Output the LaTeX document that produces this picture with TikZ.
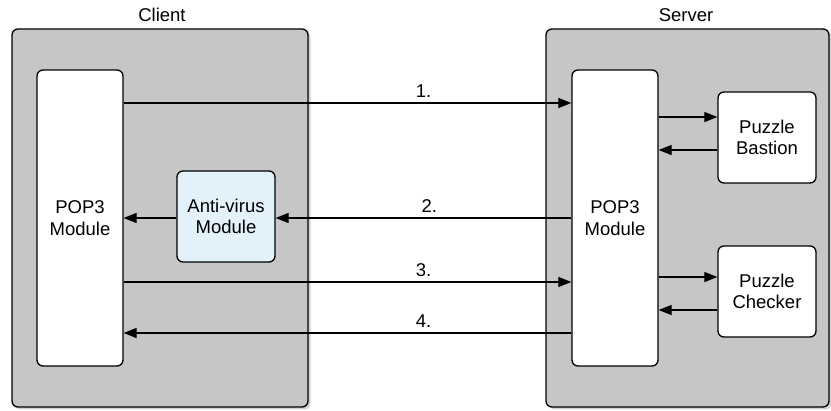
\documentclass[tikz,border=0pt]{standalone}
\usepackage{fontspec}
\setmainfont{Liberation Sans}
\usetikzlibrary{arrows.meta,shadows}

\definecolor{boxgray}{RGB}{198,198,198}
\definecolor{avblue}{RGB}{226,241,250}

\tikzset{
  side/.style={draw, line width=1.3pt, rounded corners=6pt, fill=boxgray,
    drop shadow={shadow xshift=2.5pt, shadow yshift=-2.5pt, opacity=0.35}},
  module/.style={draw, line width=1.3pt, rounded corners=6pt, fill=white,
    align=center, inner sep=0pt},
  msg/.style={-{Triangle[length=13pt,width=10pt]}, line width=1.2pt},
  num/.style={above, inner sep=4.5pt}
}

\begin{document}
\begin{tikzpicture}[x=1pt, y=-1pt, font=\fontsize{18.5}{21.5}\selectfont]
    \useasboundingbox (0,0) rectangle (831,411);

    % the two sides
    \node[side, minimum width=296pt, minimum height=378pt] (client) at (160,218) {};
    \node[side, minimum width=283pt, minimum height=378pt] (server) at (687.5,218) {};
    \node (clientlbl) at (162,15) {Client};
    \node (serverlbl) at (686,15) {Server};

    % modules
    \node[module, minimum width=86pt, minimum height=296pt] (lpop) at (80,218) {POP3\\Module};
    \node[module, minimum width=98pt, minimum height=91pt, fill=avblue] (av) at (226,216.5) {Anti-virus\\Module};
    \node[module, minimum width=86pt, minimum height=296pt] (rpop) at (615,218) {POP3\\Module};
    \node[module, minimum width=98pt, minimum height=91pt] (bastion) at (767,137.5) {Puzzle\\Bastion};
    \node[module, minimum width=98pt, minimum height=91pt] (checker) at (767,291.5) {Puzzle\\Checker};

    % messages between client and server
    \draw[msg] (lpop.east |- 0,103) -- node[num, pos=0.67]{1.} (rpop.west |- 0,103);
    \draw[msg] (rpop.west |- 0,218) -- node[num, pos=0.48]{2.} (av.east |- 0,218);
    \draw[msg] (av.west |- 0,218) -- (lpop.east |- 0,218);
    \draw[msg] (lpop.east |- 0,282) -- node[num, pos=0.67]{3.} (rpop.west |- 0,282);
    \draw[msg] (rpop.west |- 0,333) -- node[num, pos=0.33]{4.} (lpop.east |- 0,333);

    % puzzle services
    \draw[msg] (rpop.east |- 0,117) -- (bastion.west |- 0,117);
    \draw[msg] (bastion.west |- 0,150) -- (rpop.east |- 0,150);
    \draw[msg] (rpop.east |- 0,277) -- (checker.west |- 0,277);
    \draw[msg] (checker.west |- 0,310) -- (rpop.east |- 0,310);
\end{tikzpicture}
\end{document}
